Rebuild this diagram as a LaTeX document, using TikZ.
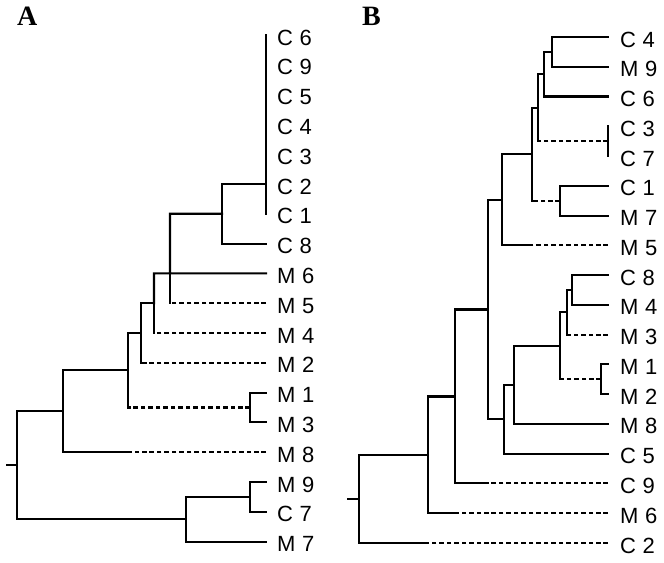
\documentclass[tikz,border=0pt]{standalone}
\usepackage{fontspec}
\setmainfont{Liberation Sans}[WordSpace=1.1]
\newfontfamily\titlefont{Liberation Serif}
\begin{document}
\begin{tikzpicture}[x=0.75pt,y=-0.75pt,line width=1.6pt,line cap=rect,
        leaf/.style={anchor=west,inner sep=0pt,font=\fontsize{16.5}{18}\selectfont},
        panel/.style={anchor=base west,inner sep=0pt,font=\titlefont\bfseries\fontsize{21}{23}\selectfont},
        brk/.style={line cap=butt,dash pattern=on 3.4pt off 2.2pt}]
        \useasboundingbox (0,0) rectangle (664,562);
        \node[panel] (ta) at (16,25) {A};
        \foreach \lab [count=\i from 0] in {C 6,C 9,C 5,C 4,C 3,C 2,C 1,C 8,M 6,M 5,M 4,M 2,M 1,M 3,M 8,M 9,C 7,M 7} {
            \coordinate (ae\i) at (266,{35+29.8*\i});
            \node[leaf] (al\i) at (276,{37.5+29.8*\i}) {\lab};
        }
        \coordinate (a0) at (17,465);
        \coordinate (ar) at (7,465);
        \coordinate (a1) at (222,213.8);
        \coordinate (a2) at (170,273.4);
        \coordinate (a3) at (154,303.2);
        \coordinate (a4) at (141,333);
        \coordinate (a5) at (128,370.2);
        \coordinate (a6) at (250,407.5);
        \coordinate (a7) at (63,411.2);
        \coordinate (a8) at (186,518.7);
        \coordinate (a9) at (250,496.9);
        \draw (ae0) -- (ae6);
        \draw (ae5) -| (a1) (ae7) -| (a1);
        \draw (a1) -| (a2) (ae8) -- (a2) -| (a3);
        \draw[brk] (ae9) -- (ae9 -| a2);
        \draw (ae9 -| a2) -- (a2);
        \draw (a3) -| (a4);
        \draw[brk] (ae10) -- (ae10 -| a3);
        \draw (ae10 -| a3) -- (a3);
        \draw (a4) -| (a5);
        \draw[brk] (ae11) -- (ae11 -| a4);
        \draw (ae11 -| a4) -- (a4);
        \draw (ae12) -| (a6) (ae13) -| (a6);
        \draw[brk] (a6) -- (a6 -| a5);
        \draw (a6 -| a5) -- (a5);
        \draw (a5) -| (a7);
        \draw[brk] (ae14) -- (ae14 -| a5);
        \draw (ae14 -| a5) -| (a7);
        \draw (ae15) -| (a9) (ae16) -| (a9) (a9) -| (a8) (ae17) -| (a8);
        \draw (a7) -| (a0) (a8) -| (a0) (ar) -- (a0);
        \node[panel] (tb) at (361,25) {B};
        \foreach \lab [count=\i from 0] in {C 4,M 9,C 6,C 3,C 7,C 1,M 7,M 5,C 8,M 4,M 3,M 1,M 2,M 8,C 5,C 9,M 6,C 2} {
            \coordinate (be\i) at (608,{37+29.76*\i});
            \node[leaf] (bl\i) at (619,{39.5+29.76*\i}) {\lab};
        }
        \coordinate (b0) at (359,498.9);
        \coordinate (br) at (348,498.9);
        \coordinate (b1) at (552,51.9);
        \coordinate (b2) at (544,74.2);
        \coordinate (b3) at (608,141.2);
        \coordinate (b4) at (538,107.7);
        \coordinate (b5) at (560,200.7);
        \coordinate (b6) at (532,154.2);
        \coordinate (b7) at (502,199.8);
        \coordinate (b8) at (572,290);
        \coordinate (b9) at (567,312.3);
        \coordinate (b10) at (601,379.3);
        \coordinate (b11) at (560,345.8);
        \coordinate (b12) at (514,384.9);
        \coordinate (b13) at (504,419.3);
        \coordinate (b14) at (488,309.5);
        \coordinate (b15) at (455,396.5);
        \coordinate (b16) at (428,454.8);
        \draw (be0) -| (b1) (be1) -| (b1);
        \draw (b1) -| (b2) (be2) -| (b2);
        \draw (be3) -- (be4);
        \draw (b2) -| (b4);
        \draw[brk] (b3) -- (b3 -| b4);
        \draw (b3 -| b4) -- (b4);
        \draw (be5) -| (b5) (be6) -| (b5);
        \draw (b4) -| (b6);
        \draw[brk] (b5) -- (b5 -| b6);
        \draw (b5 -| b6) -- (b6);
        \draw (b6) -| (b7);
        \draw[brk] (be7) -- (be7 -| b6);
        \draw (be7 -| b6) -| (b7);
        \draw (be8) -| (b8) (be9) -| (b8);
        \draw (b8) -| (b9);
        \draw[brk] (be10) -- (be10 -| b9);
        \draw (be10 -| b9) -- (b9);
        \draw (be11) -| (b10) (be12) -| (b10);
        \draw (b9) -| (b11);
        \draw[brk] (b10) -- (b10 -| b11);
        \draw (b10 -| b11) -- (b11);
        \draw (b11) -| (b12) (be13) -| (b12);
        \draw (b12) -| (b13) (be14) -| (b13);
        \draw (b7) -| (b14) (b13) -| (b14);
        \draw (b14) -| (b15);
        \draw[brk] (be15) -- (be15 -| b14);
        \draw (be15 -| b14) -| (b15);
        \draw (b15) -| (b16);
        \draw[brk] (be16) -- (be16 -| b15);
        \draw (be16 -| b15) -| (b16);
        \draw (b16) -| (b0);
        \draw[brk] (be17) -- (be17 -| b16);
        \draw (be17 -| b16) -| (b0);
        \draw (br) -- (b0);
    \end{tikzpicture}
\end{document}
